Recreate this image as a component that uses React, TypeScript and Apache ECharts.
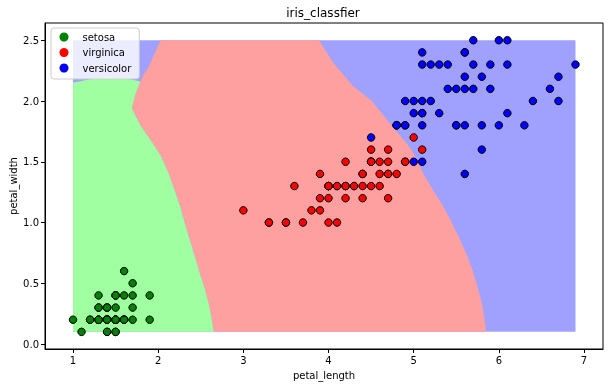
import React, { useEffect, useRef } from "react";
import * as echarts from "echarts";

// ---- scatter data (petal_length, petal_width) ----
const setosaLength = [1.4, 1.4, 1.3, 1.5, 1.4, 1.7, 1.4, 1.5, 1.4, 1.5, 1.5, 1.6, 1.4, 1.1, 1.2, 1.5, 1.3, 1.4, 1.7, 1.5, 1.7, 1.5, 1.0, 1.7, 1.9, 1.6, 1.6, 1.5, 1.4, 1.6, 1.6, 1.5, 1.5, 1.4, 1.5, 1.2, 1.3, 1.4, 1.3, 1.5, 1.3, 1.3, 1.3, 1.6, 1.9, 1.4, 1.6, 1.4, 1.5, 1.4];
const setosaWidth = [0.2, 0.2, 0.2, 0.2, 0.2, 0.4, 0.3, 0.2, 0.2, 0.1, 0.2, 0.2, 0.1, 0.1, 0.2, 0.4, 0.4, 0.3, 0.3, 0.3, 0.2, 0.4, 0.2, 0.5, 0.2, 0.2, 0.4, 0.2, 0.2, 0.2, 0.2, 0.4, 0.1, 0.2, 0.2, 0.2, 0.2, 0.1, 0.2, 0.2, 0.3, 0.3, 0.2, 0.6, 0.4, 0.3, 0.2, 0.2, 0.2, 0.2];

const virginicaLength = [4.7, 4.5, 4.9, 4.0, 4.6, 4.5, 4.7, 3.3, 4.6, 3.9, 3.5, 4.2, 4.0, 4.7, 3.6, 4.4, 4.5, 4.1, 4.5, 3.9, 4.8, 4.0, 4.9, 4.7, 4.3, 4.4, 4.8, 5.0, 4.5, 3.5, 3.8, 3.7, 3.9, 5.1, 4.5, 4.5, 4.7, 4.4, 4.1, 4.0, 4.4, 4.6, 4.0, 3.3, 4.2, 4.2, 4.2, 4.3, 3.0, 4.1];
const virginicaWidth = [1.4, 1.5, 1.5, 1.3, 1.5, 1.3, 1.6, 1.0, 1.3, 1.4, 1.0, 1.5, 1.0, 1.4, 1.3, 1.4, 1.5, 1.0, 1.5, 1.1, 1.8, 1.3, 1.5, 1.2, 1.3, 1.4, 1.4, 1.7, 1.5, 1.0, 1.1, 1.0, 1.2, 1.6, 1.5, 1.6, 1.5, 1.3, 1.3, 1.3, 1.2, 1.4, 1.2, 1.0, 1.3, 1.2, 1.3, 1.3, 1.1, 1.3];

const versicolorLength = [6.0, 5.1, 5.9, 5.6, 5.8, 6.6, 4.5, 6.3, 5.8, 6.1, 5.1, 5.3, 5.5, 5.0, 5.1, 5.3, 5.5, 6.7, 6.9, 5.0, 5.7, 4.9, 6.7, 4.9, 5.7, 6.0, 4.8, 4.9, 5.6, 5.8, 6.1, 6.4, 5.6, 5.1, 5.6, 6.1, 5.6, 5.5, 4.8, 5.4, 5.6, 5.1, 5.1, 5.9, 5.7, 5.2, 5.0, 5.2, 5.4, 5.1];
const versicolorWidth = [2.5, 1.9, 2.1, 1.8, 2.2, 2.1, 1.7, 1.8, 1.8, 2.5, 2.0, 1.9, 2.1, 2.0, 2.4, 2.3, 1.8, 2.2, 2.3, 1.5, 2.3, 2.0, 2.0, 1.8, 2.1, 1.8, 1.8, 1.8, 2.1, 1.6, 1.9, 2.0, 2.2, 1.5, 1.4, 2.3, 2.4, 1.8, 1.8, 2.1, 2.4, 2.3, 1.9, 2.3, 2.5, 2.3, 1.9, 2.0, 2.3, 1.8];

const seriesNames = ["setosa", "virginica", "versicolor"];
const pointColors = ["#008000", "#ff0000", "#0000ff"];

// ---- axes ----
const xTicks = [1, 2, 3, 4, 5, 6, 7];
const yTicks = [0, 0.5, 1.0, 1.5, 2.0, 2.5];
const xRange = [0.671, 7.223];
const yRange = [-0.041, 2.642];

// ---- decision regions (data coordinates) ----
const meshX = [1.0, 6.9];
const meshY = [0.1, 2.5];
// red / blue boundary, top to bottom
const redBlueBoundary = [
  [3.89, 2.5], [3.97, 2.41], [4.06, 2.31], [4.17, 2.22], [4.28, 2.13], [4.4, 2.06], [4.51, 2.0],
  [4.67, 1.86], [4.82, 1.73], [4.92, 1.65], [4.99, 1.58], [5.06, 1.48], [5.13, 1.38], [5.2, 1.3],
  [5.26, 1.23], [5.34, 1.14], [5.44, 1.01], [5.53, 0.88], [5.62, 0.74], [5.69, 0.61], [5.75, 0.47],
  [5.8, 0.34], [5.83, 0.22], [5.85, 0.1],
];
// green / red boundary, bottom to top
const greenRedBoundary = [
  [2.65, 0.1], [2.63, 0.2], [2.6, 0.31], [2.55, 0.45], [2.49, 0.58], [2.43, 0.72], [2.37, 0.86],
  [2.31, 1.0], [2.26, 1.13], [2.19, 1.27], [2.12, 1.41], [2.03, 1.55], [1.91, 1.68], [1.79, 1.8],
  [1.69, 1.94], [1.73, 2.05], [1.79, 2.16],
];
// green top arc, right to left
const greenTopArc = [[1.79, 2.16], [1.7, 2.175], [1.61, 2.185], [1.43, 2.195], [1.25, 2.185], [1.14, 2.17], [1.0, 2.15]];
// blue / red boundary in the top-left corner, bottom to top
const blueRedTopLeft = [[1.79, 2.16], [1.83, 2.22], [1.88, 2.27], [1.95, 2.38], [2.03, 2.5]];

const regionColors = ["#a0a0ff", "#ffa0a0", "#a0ffa0"];

const FONT = "DejaVu Sans";

export default function App() {
  const ref = useRef<HTMLDivElement>(null);
  useEffect(() => {
    if (!ref.current) return;
    const chart = echarts.init(ref.current, null, { renderer: "svg" });

    const regionPolys = [
      [[meshX[0], meshY[0]], [meshX[1], meshY[0]], [meshX[1], meshY[1]], [meshX[0], meshY[1]]],
      [...redBlueBoundary, ...greenRedBoundary, ...blueRedTopLeft],
      [[meshX[0], meshY[0]], ...greenRedBoundary, ...greenTopArc],
    ];

    const lengths = [setosaLength, virginicaLength, versicolorLength];
    const widths = [setosaWidth, virginicaWidth, versicolorWidth];

    const scatterSeries = seriesNames.map((name, i) => ({
      name,
      type: "scatter",
      z: 3,
      silent: true,
      symbol: "circle",
      symbolSize: 7.5,
      itemStyle: { color: pointColors[i], borderColor: "#000", borderWidth: 1, opacity: 1 },
      data: lengths[i].map((v, j) => [v, widths[i][j]]),
    }));

    chart.setOption({
      animation: false,
      textStyle: { fontFamily: FONT },
      grid: {
        left: 45, top: 23, right: 10, bottom: 39,
        show: true, borderColor: "#000", borderWidth: 1, backgroundColor: "transparent",
        outerBoundsMode: "none",
      },
      graphic: [
        {
          type: "text", x: 323, y: 13,
          style: { text: "iris_classfier", fontFamily: FONT, fontSize: 12, fill: "#000", textAlign: "center", textVerticalAlign: "middle" },
        },
      ],
      legend: {
        orient: "vertical",
        left: 51, top: 28,
        padding: [4, 8, 6, 8.5],
        itemWidth: 9, itemHeight: 9, itemGap: 5.5,
        backgroundColor: "rgba(255,255,255,0.8)",
        borderColor: "#cccccc", borderWidth: 1, borderRadius: 3,
        textStyle: { fontFamily: FONT, fontSize: 10, color: "#000", lineHeight: 9, padding: [0, 0, 0, 9] },
        selectedMode: false,
        data: seriesNames.map((n) => ({ name: n, icon: "circle", itemStyle: { borderWidth: 0 } })),
      },
      xAxis: {
        type: "value", min: xRange[0], max: xRange[1],
        name: "petal_length", nameLocation: "middle", nameGap: 21, nameMoveOverlap: false,
        nameTextStyle: { fontFamily: FONT, fontSize: 10, color: "#000" },
        splitLine: { show: false },
        axisLine: { show: true, onZero: false, lineStyle: { color: "#000", width: 1 } },
        axisTick: { show: true, length: 4, lineStyle: { color: "#000" }, customValues: xTicks },
        axisLabel: { customValues: xTicks, margin: 6, fontFamily: FONT, fontSize: 10, color: "#000", formatter: (v: number) => String(v) },
      },
      yAxis: {
        type: "value", min: yRange[0], max: yRange[1],
        name: "petal_width", nameLocation: "middle", nameGap: 27, nameRotate: 90, nameMoveOverlap: false,
        nameTextStyle: { fontFamily: FONT, fontSize: 10, color: "#000" },
        splitLine: { show: false },
        axisLine: { show: true, onZero: false, lineStyle: { color: "#000", width: 1 } },
        axisTick: { show: true, length: 4, lineStyle: { color: "#000" }, customValues: yTicks },
        axisLabel: { customValues: yTicks, margin: 6, fontFamily: FONT, fontSize: 10, color: "#000", formatter: (v: number) => v.toFixed(1) },
      },
      series: [
        {
          type: "custom",
          silent: true,
          z: 1,
          data: regionColors.map(() => [meshX[0], meshY[0]]),
          renderItem: (params: any, api: any) => {
            const poly = regionPolys[params.dataIndex];
            return {
              type: "polygon",
              shape: { points: poly.map((p) => api.coord(p)) },
              style: { fill: regionColors[params.dataIndex], stroke: null },
            };
          },
        },
        ...scatterSeries,
      ],
    });
    return () => chart.dispose();
  }, []);
  return <div ref={ref} style={{ position: "fixed", left: 0, top: 0, width: 613, height: 388 }} />;
}
